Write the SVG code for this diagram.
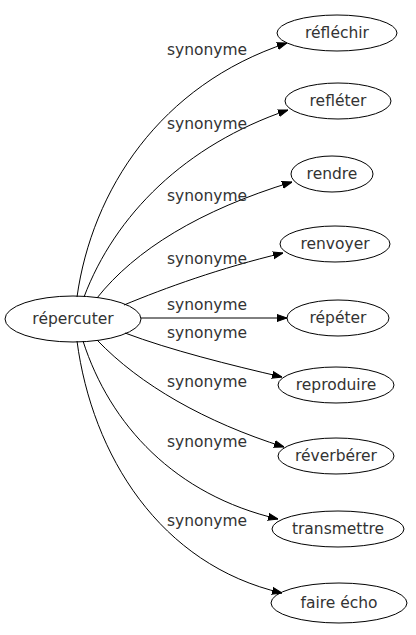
<svg xmlns="http://www.w3.org/2000/svg" width="416" height="635" viewBox="0 0 416 635">
<style>
text{font-family:"DejaVu Sans","Liberation Sans",sans-serif;font-size:15.5px;fill:#333;text-anchor:middle}
ellipse{fill:none;stroke:#000;stroke-width:1}
.e path{fill:none;stroke:#000;stroke-width:1}
</style>
<defs>
<marker id="a" viewBox="0 0 10 10" refX="10" refY="5" markerWidth="10" markerHeight="10" markerUnits="userSpaceOnUse" orient="auto">
<path d="M0,1.5 L10,5 L0,8.5 z" fill="#000" stroke="#000" stroke-width="1"/>
</marker>
</defs>
<g class="e" id="edges">
<path d="M77,297 C92,190 160,85 287,43" marker-end="url(#a)"/>
<path d="M84,297 C115,215 185,145 288,110" marker-end="url(#a)"/>
<path d="M97,298 C135,250 200,210 292,182" marker-end="url(#a)"/>
<path d="M124,305 C165,288 220,268 283,253" marker-end="url(#a)"/>
<path d="M141,318 L287,318" marker-end="url(#a)"/>
<path d="M125,333 C170,350 230,365 282,377" marker-end="url(#a)"/>
<path d="M97,340 C140,385 205,422 284,447" marker-end="url(#a)"/>
<path d="M83,341 C110,425 175,495 278,519" marker-end="url(#a)"/>
<path d="M77,341 C92,455 160,565 282,593" marker-end="url(#a)"/>
<text x="207" y="55">synonyme</text>
<text x="207" y="129">synonyme</text>
<text x="207" y="201">synonyme</text>
<text x="207" y="264">synonyme</text>
<text x="207" y="310">synonyme</text>
<text x="207" y="338">synonyme</text>
<text x="207" y="387">synonyme</text>
<text x="207" y="447">synonyme</text>
<text x="207" y="526">synonyme</text>
</g>
<g id="n0"><ellipse cx="73" cy="319" rx="68" ry="23"/><text x="73" y="324">répercuter</text></g>
<g id="n1"><ellipse cx="337" cy="33" rx="60" ry="18"/><text x="337" y="38">réfléchir</text></g>
<g id="n2"><ellipse cx="338" cy="101" rx="53" ry="18"/><text x="338" y="106">refléter</text></g>
<g id="n3"><ellipse cx="332" cy="174" rx="41" ry="18"/><text x="332" y="179">rendre</text></g>
<g id="n4"><ellipse cx="335" cy="244" rx="55" ry="18"/><text x="335" y="249">renvoyer</text></g>
<g id="n5"><ellipse cx="338" cy="318" rx="51" ry="18"/><text x="338" y="323">répéter</text></g>
<g id="n6"><ellipse cx="336" cy="385" rx="58" ry="18"/><text x="336" y="390">reproduire</text></g>
<g id="n7"><ellipse cx="336" cy="456" rx="58" ry="18"/><text x="336" y="461">réverbérer</text></g>
<g id="n8"><ellipse cx="338" cy="529" rx="66" ry="18"/><text x="338" y="534">transmettre</text></g>
<g id="n9"><ellipse cx="339" cy="603" rx="68" ry="20"/><text x="339" y="608">faire écho</text></g>
</svg>
